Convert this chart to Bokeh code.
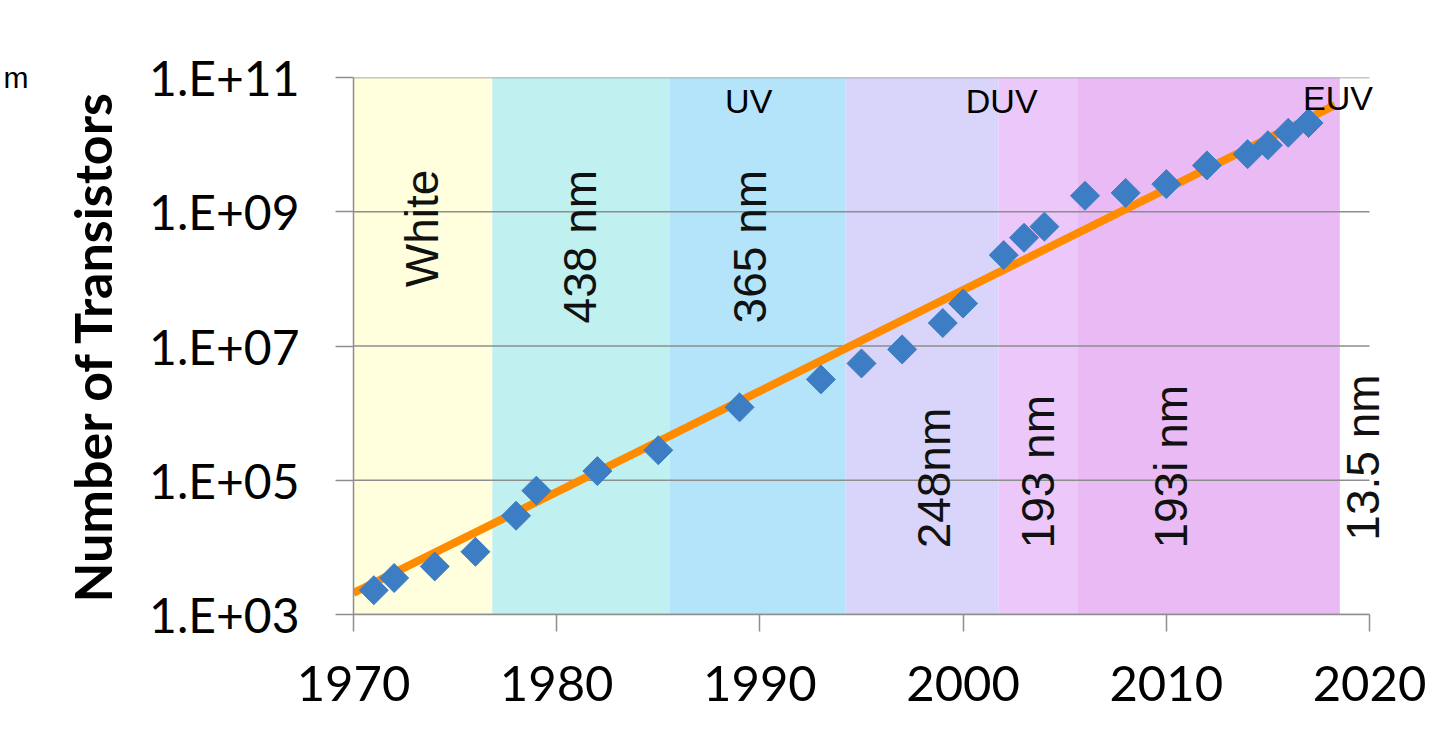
import math
from bokeh.plotting import figure
from bokeh.models import Range1d, FixedTicker, LabelSet, ColumnDataSource, LogAxis
from bokeh.core.properties import value
from bokeh.embed import file_html
from bokeh.resources import INLINE

# ---------------- data ----------------
years = [1971, 1972, 1974, 1976, 1978, 1979, 1982, 1985, 1989, 1993, 1995, 1997,
         1999, 2000, 2002, 2003, 2004, 2006, 2008, 2010, 2012, 2014, 2015, 2016, 2017]
transistors = [2.3e3, 3.5e3, 5.2e3, 8.6e3, 2.96e4, 7.0e4, 1.37e5, 2.8e5, 1.22e6, 3.18e6,
               5.5e6, 8.9e6, 2.2e7, 4.3e7, 2.26e8, 4.1e8, 6.0e8, 1.73e9, 1.91e9, 2.58e9,
               4.9e9, 7.2e9, 9.8e9, 1.5e10, 2.1e10]

trend_years = [1970, 2018.3]
trend_values = [2.09e3, 3.87e10]

band_names = ["White", "438 nm", "365 nm", "248nm", "193 nm", "193i nm"]
band_starts = [1970, 1976.83, 1985.55, 1994.2, 2001.75, 2005.65]
band_ends = [1976.83, 1985.55, 1994.2, 2001.75, 2005.65, 2018.54]
band_colors = ["#FFFEDD", "#C0F1F0", "#B4E4FA", "#D8D4FA", "#EBC7FA", "#E9BAF4"]

label_texts = ["White", "438 nm", "365 nm", "248nm", "193 nm", "193i nm", "13.5 nm"]
label_years = [1973.37, 1981.14, 1989.5, 1998.55, 2003.67, 2010.21, 2019.7]
label_values = [10**8.751, 10**8.48, 10**8.48, 10**5.033, 10**5.127, 10**5.201, 10**5.338]

region_texts = ["UV", "DUV", "EUV"]
region_years = [1989.45, 2001.9, 2018.45]
region_values = [10**10.655, 10**10.655, 10**10.70]

x_ticks = [1970, 1980, 1990, 2000, 2010, 2020]
y_ticks = [1e3, 1e5, 1e7, 1e9, 1e11]
y_tick_labels = ["1.E+03", "1.E+05", "1.E+07", "1.E+09", "1.E+11"]

corner_text = "m"

# ---------------- figure ----------------
X_END = 1970 + 50 * 1030 / 1016  # a little room right of 2020 for the "13.5 nm" label
p = figure(frame_width=1030, frame_height=537,
           x_range=Range1d(1970, X_END), y_range=Range1d(1e3, 1e11),
           y_axis_type="log", output_backend="svg", toolbar_location=None,
           min_border_left=353, min_border_right=48, min_border_top=77,
           min_border_bottom=110)
p.outline_line_color = None
p.background_fill_color = "white"
p.border_fill_color = "white"

# bands
bsrc = ColumnDataSource(dict(left=band_starts, right=band_ends,
                             bottom=[1e3] * len(band_starts), top=[1e11] * len(band_starts),
                             color=band_colors))
p.quad(left="left", right="right", bottom="bottom", top="top", fill_color="color",
       line_color=None, source=bsrc, level="image")

# horizontal grid lines, limited to 1970-2020
p.xgrid.grid_line_color = None
p.ygrid.grid_line_color = None
p.segment(x0=[x_ticks[0]] * len(y_ticks), x1=[x_ticks[-1]] * len(y_ticks),
          y0=y_ticks, y1=y_ticks, line_color="#8E8E8E", line_width=1.5, level="underlay")

# trend line
p.line(trend_years, trend_values, line_color="#FF8C00", line_width=8)

# markers
p.scatter(years, transistors, marker="square", angle=math.pi / 4, size=20.5,
          fill_color="#3C7DC4", line_color="#3C7DC4")

# rotated band labels
lsrc = ColumnDataSource(dict(x=label_years, y=label_values, text=label_texts))
p.add_layout(LabelSet(x="x", y="y", text="text", source=lsrc, angle=math.pi / 2,
                      text_align="center", text_baseline="middle",
                      text_font=value("Liberation Sans"), text_font_size=value("46px"),
                      text_color=value("#111111")))

# region labels
rsrc = ColumnDataSource(dict(x=region_years, y=region_values, text=region_texts))
p.add_layout(LabelSet(x="x", y="y", text="text", source=rsrc,
                      text_align="center", text_baseline="middle",
                      text_font=value("Liberation Sans"), text_font_size=value("34px"),
                      text_color=value("#000000")))

# axes
xa = p.xaxis[0]
xa.ticker = FixedTicker(ticks=x_ticks)
xa.bounds = (x_ticks[0], x_ticks[-1])
xa.axis_line_color = "#8E8E8E"
xa.axis_line_width = 1.5
xa.major_tick_line_color = "#8E8E8E"
xa.major_tick_line_width = 1.5
xa.major_tick_out = 17
xa.major_tick_in = 0
xa.minor_tick_line_color = None
xa.major_label_standoff = 34
xa.major_label_text_font = "Lato"
xa.major_label_text_font_size = "49px"
xa.major_label_text_color = "#000000"

ya = p.yaxis[0]
ya.ticker = FixedTicker(ticks=y_ticks)
ya.major_label_overrides = {t: l for t, l in zip(y_ticks, y_tick_labels)}
ya.axis_line_color = "#8E8E8E"
ya.axis_line_width = 1.5
ya.major_tick_line_color = "#8E8E8E"
ya.major_tick_line_width = 1.5
ya.major_tick_out = 18
ya.major_tick_in = 0
ya.minor_tick_line_color = None
ya.major_label_standoff = 36
ya.major_label_text_font = "Lato"
ya.major_label_text_font_size = "48px"
ya.major_label_text_color = "#000000"
ya.axis_label = "Number of Transistors"
ya.axis_label_text_font = "Lato"
ya.axis_label_text_font_style = "bold"
ya.axis_label_text_font_size = "52px"
ya.axis_label_text_color = "#000000"
ya.axis_label_standoff = 23

# cut-off fragment of text at the top-left corner, as an outer axis label
outer = LogAxis(ticker=FixedTicker(ticks=[y_ticks[-1]]),
                major_label_overrides={y_ticks[-1]: corner_text},
                axis_line_color=None, major_tick_line_color=None,
                minor_tick_line_color=None, major_tick_out=0, major_tick_in=0,
                major_label_standoff=30, major_label_text_font="Liberation Sans",
                major_label_text_font_size="30px", major_label_text_color="#000000")
p.add_layout(outer, "left")

open("out.html", "w").write(file_html(p, INLINE))
